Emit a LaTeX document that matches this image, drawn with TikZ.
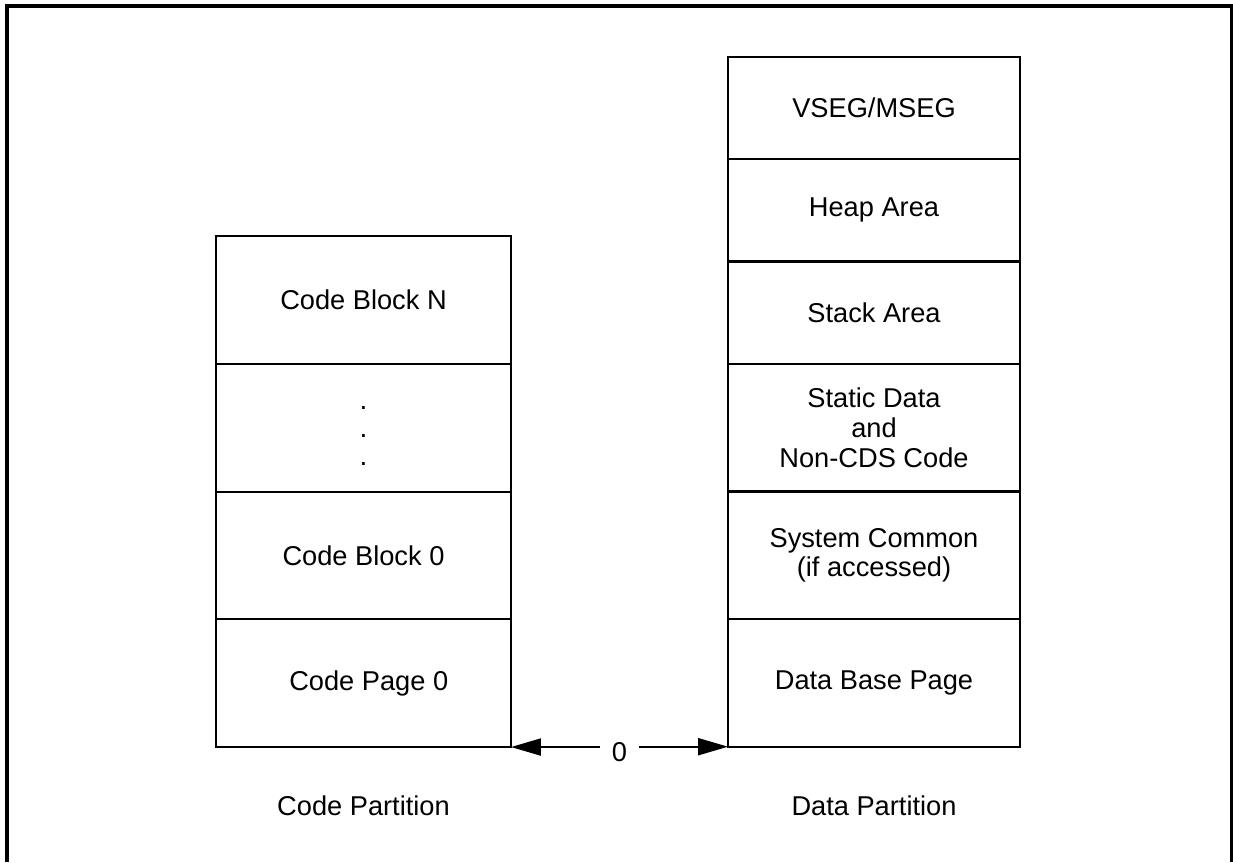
\documentclass[tikz,border=0pt]{standalone}
\usepackage{fontspec}
\setmainfont{Liberation Sans}
\usetikzlibrary{positioning, arrows.meta}

\begin{document}
\begin{tikzpicture}[x=0.02cm, y=-0.02cm,
    cell/.style={rectangle, draw, line width=1.2pt, inner sep=0pt, outer sep=0pt, align=center, font=\fontsize{15.5}{17}\selectfont},
    codecell/.style={cell, minimum width=5.9cm, minimum height=2.555cm},
    datacell/.style={cell, minimum width=5.84cm, minimum height=2.047cm},
    tallcell/.style={cell, minimum width=5.84cm, minimum height=2.553cm},
    parttitle/.style={font=\fontsize{15.5}{17}\selectfont},
    offset/.style={-{Triangle[length=0.6cm, width=0.34cm]}, line width=1.2pt}
]
    \useasboundingbox (0,0) rectangle (1233,862);
    \draw[line width=1.8pt] (7,862) -- (7,6) -- (1232,6) -- (1232,862);

    % code partition
    \node[codecell] (cbn) at (363.5,300) {Code Block N};
    \node[codecell, below=0pt of cbn] (dots) {};
    \node[align=center, font=\fontsize{16}{16}\selectfont, yshift=-4.5pt] (dotmarks) at (dots) {.\\.\\.};
    \node[codecell, below=0pt of dots] (cb0) {Code Block 0};
    \node[codecell, below=0pt of cb0] (cp0) {\hspace*{6pt}Code Page 0};
    \node[parttitle] (codetitle) at (363.5,806) {Code Partition};

    % data partition
    \node[datacell] (vseg) at (874,108) {VSEG/MSEG};
    \node[datacell, below=0pt of vseg] (heap) {Heap Area};
    \node[datacell, below=0pt of heap] (stack) {Stack Area};
    \node[tallcell, below=0pt of stack] (static) {Static Data\\and\\Non-CDS Code};
    \node[tallcell, below=0pt of static] (syscom) {System Common\\(if accessed)};
    \node[tallcell, below=0pt of syscom] (dbp) {Data Base Page};
    \node[parttitle] (datatitle) at (874,806) {Data Partition};

    % offset 0
    \node[parttitle, inner xsep=6.5pt, inner ysep=0pt] (zero) at (619.5,752) {0};
    \draw[offset] (zero.west |- cp0.south east) -- (cp0.south east);
    \draw[offset] (zero.east |- dbp.south west) -- (dbp.south west);
\end{tikzpicture}
\end{document}
